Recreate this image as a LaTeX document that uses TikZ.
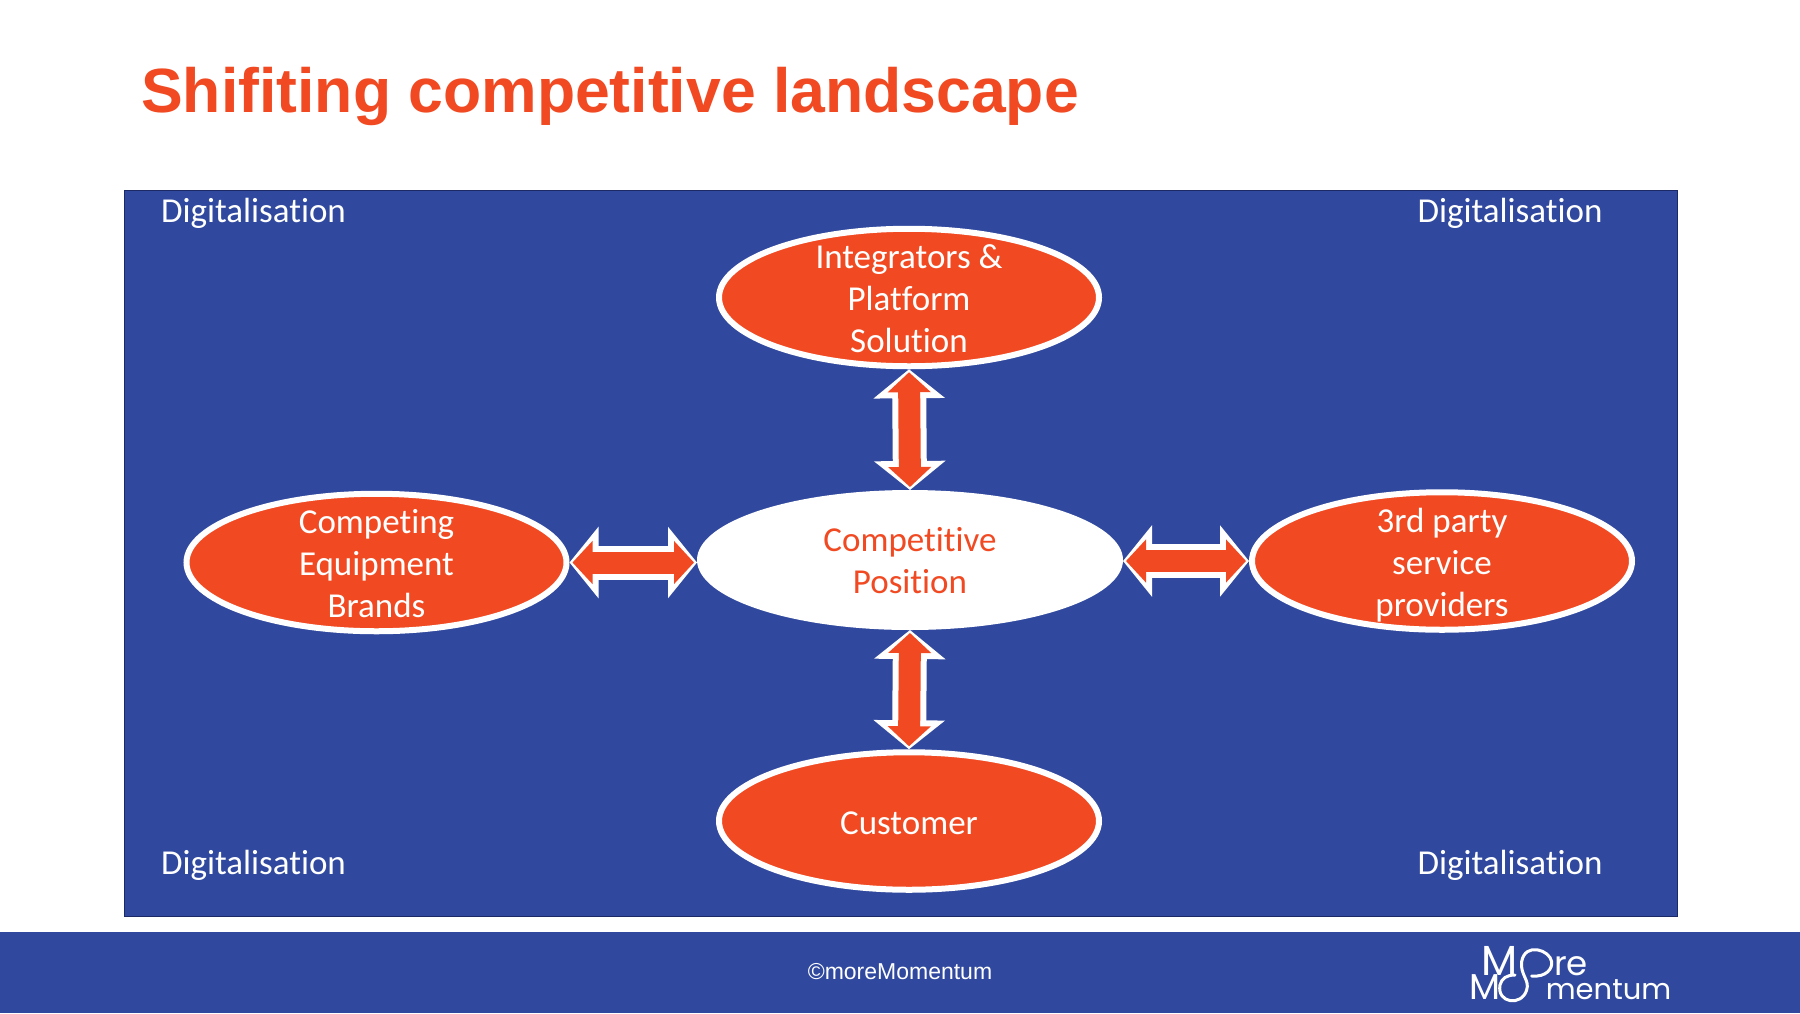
\documentclass[tikz,border=0pt]{standalone}
\usepackage{fontspec}
\usetikzlibrary{shapes.geometric,arrows.meta}
\setmainfont[Ligatures=NoCommon]{Carlito}
\newfontfamily\titlefont{Liberation Sans}
\newfontfamily\logofont{Poppins}
\definecolor{brandblue}{HTML}{30499F}
\definecolor{brandred}{HTML}{F14A22}
\definecolor{paneledge}{HTML}{1B2A66}
\tikzset{
  oval/.style={ellipse,draw=white,line width=6pt,fill=brandred,minimum width=380pt,minimum height=137.5pt,inner sep=0pt,outer sep=3pt},
  ovaltext/.style={text=white,font=\fontsize{35}{42}\selectfont,align=center},
  cornertext/.style={text=white,font=\fontsize{35}{42}\selectfont},
  arrowwhite/.style={draw=white,line width=34pt,{Triangle[length=29pt,width=70pt]}-{Triangle[length=29pt,width=70pt]}},
  arrowred/.style={draw=brandred,line width=22pt,shorten <=3pt,shorten >=3pt,{Triangle[length=20pt,width=42pt]}-{Triangle[length=20pt,width=42pt]}},
  logostroke/.style={draw=white,line width=3pt,line cap=round},
}
\begin{document}
\begin{tikzpicture}[x=1pt,y=-1pt]
\useasboundingbox (0,0) rectangle (1800,1013);
\fill[white] (0,0) rectangle (1800,1013);
\node[anchor=west,inner sep=0pt,text=brandred,font=\titlefont\bfseries\fontsize{62.5}{70}\selectfont] (title) at (141,96) {Shifiting competitive landscape};
\node[draw=paneledge,line width=1.5pt,fill=brandblue,minimum width=1553pt,minimum height=726pt,inner sep=0pt,anchor=north west] (panel) at (123.5,189.5) {};
\node[cornertext] (d1) at (253.5,213) {Digitalisation};
\node[cornertext] (d2) at (1510,213) {Digitalisation};
\node[cornertext] (d3) at (253.5,865) {Digitalisation};
\node[cornertext] (d4) at (1510,865) {Digitalisation};
\node[oval,label={[ovaltext,yshift=-1.5pt]center:Integrators \&\\Platform\\Solution}] (top) at (909,297.5) {};
\node[oval,label={[ovaltext,yshift=-1.5pt]center:Competing\\Equipment\\Brands}] (left) at (376.5,562.5) {};
\node[oval,label={[ovaltext,yshift=-4pt]center:3rd party\\service\\providers}] (right) at (1442,561) {};
\node[oval,label={[ovaltext,yshift=-2.5pt]center:Customer}] (bottom) at (909,821) {};
\node[oval,draw=none,outer sep=0pt,fill=white,minimum width=426pt,minimum height=140pt,label={[ovaltext,text=brandred,yshift=-1pt]center:Competitive\\Position}] (centre) at (910,560) {};
\draw[arrowwhite] (top.south) -- (centre.north);
\draw[arrowred] (top.south) -- (centre.north);
\draw[arrowwhite] (bottom.north) -- (centre.south);
\draw[arrowred] (bottom.north) -- (centre.south);
\draw[arrowwhite] (left.east) -- (left.east -| centre.west);
\draw[arrowred] (left.east) -- (left.east -| centre.west);
\draw[arrowwhite] (right.west) -- (right.west -| centre.east);
\draw[arrowred] (right.west) -- (right.west -| centre.east);
\fill[brandblue] (0,932) rectangle (1800,1013);
\node[text=white,font=\titlefont\fontsize{23}{28}\selectfont] (copy) at (900,972) {©moreMomentum};
\begin{scope}[shift={(1400,920)},x=0.3333pt,y=-0.3333pt]
\node[anchor=base west,inner sep=0pt,text=white,font=\logofont\fontsize{42}{44}\selectfont] (logoM) at (245,165) {M};
\node[anchor=base west,inner sep=0pt,text=white,font=\logofont\fontsize{34}{40}\selectfont] (logore) at (462,165) {re};
\node[anchor=base west,inner sep=0pt,text=white,font=\logofont\fontsize{36}{40}\selectfont] (logoM2) at (208,238) {M};
\node[anchor=base west,inner sep=0pt,text=white,font=\logofont\fontsize{29}{40}\selectfont] (logoment) at (437,238) {mentum};
\draw[logostroke] (395,168) .. controls (440,172) and (458,145) .. (455,125) .. controls (450,90) and (375,65) .. (365,125) .. controls (360,165) and (390,180) .. (380,210) .. controls (365,260) and (290,250) .. (300,195) .. controls (305,175) and (320,165) .. (345,165);
\end{scope}
\end{tikzpicture}
\end{document}
